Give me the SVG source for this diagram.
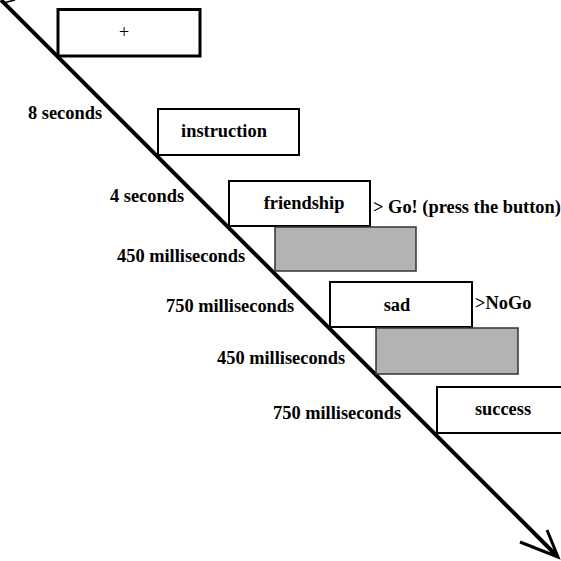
<svg xmlns="http://www.w3.org/2000/svg" width="561" height="561" viewBox="0 0 561 561">
<style>
.box{fill:#fff;stroke:#000;stroke-width:2}
.gray{fill:#b3b3b3;stroke:#333;stroke-width:1.5}
.lbl{font-family:"Liberation Serif","Times New Roman",serif;font-weight:bold;font-size:18.4px;fill:#000}
.mid{text-anchor:middle}
</style>
<rect width="561" height="561" fill="#fff"/>
<g id="connectors">
<line x1="1" y1="0" x2="556" y2="555" stroke="#000" stroke-width="4"/>
<line x1="3" y1="3" x2="15" y2="0" stroke="#000" stroke-width="1.5"/>
<polyline points="520,542 558,557 547,530" fill="none" stroke="#000" stroke-width="3" stroke-linejoin="miter"/>
</g>
<g id="fixation">
<rect class="box" x="58" y="9.5" width="142" height="46.5" style="stroke-width:3"/>
<text x="124" y="38" font-family="Liberation Serif, serif" font-size="18" text-anchor="middle">+</text>
</g>
<g id="t8"><text class="lbl" x="28" y="119">8 seconds</text></g>
<g id="instruction">
<rect class="box" x="158" y="109" width="141" height="46"/>
<text class="lbl mid" x="224" y="137">instruction</text>
</g>
<g id="t4"><text class="lbl" x="110" y="202">4 seconds</text></g>
<g id="friendship">
<rect class="box" x="229" y="181" width="141" height="45"/>
<text class="lbl mid" x="304" y="209">friendship</text>
</g>
<g id="go"><text class="lbl" x="373" y="213">&gt; Go! (press the button)</text></g>
<g id="blank1"><rect class="gray" x="275" y="227" width="141" height="44"/></g>
<g id="t450a"><text class="lbl" x="117" y="262">450 milliseconds</text></g>
<g id="t750a"><text class="lbl" x="166" y="312">750 milliseconds</text></g>
<g id="sad">
<rect class="box" x="330" y="282" width="142" height="45"/>
<text class="lbl mid" x="397" y="311">sad</text>
</g>
<g id="nogo"><text class="lbl" x="475" y="309">&gt;NoGo</text></g>
<g id="blank2"><rect class="gray" x="376" y="328" width="142" height="46"/></g>
<g id="t450b"><text class="lbl" x="217" y="364">450 milliseconds</text></g>
<g id="t750b"><text class="lbl" x="273" y="419">750 milliseconds</text></g>
<g id="success">
<rect class="box" x="437" y="387" width="130" height="46"/>
<text class="lbl mid" x="503" y="415">success</text>
</g>
</svg>
